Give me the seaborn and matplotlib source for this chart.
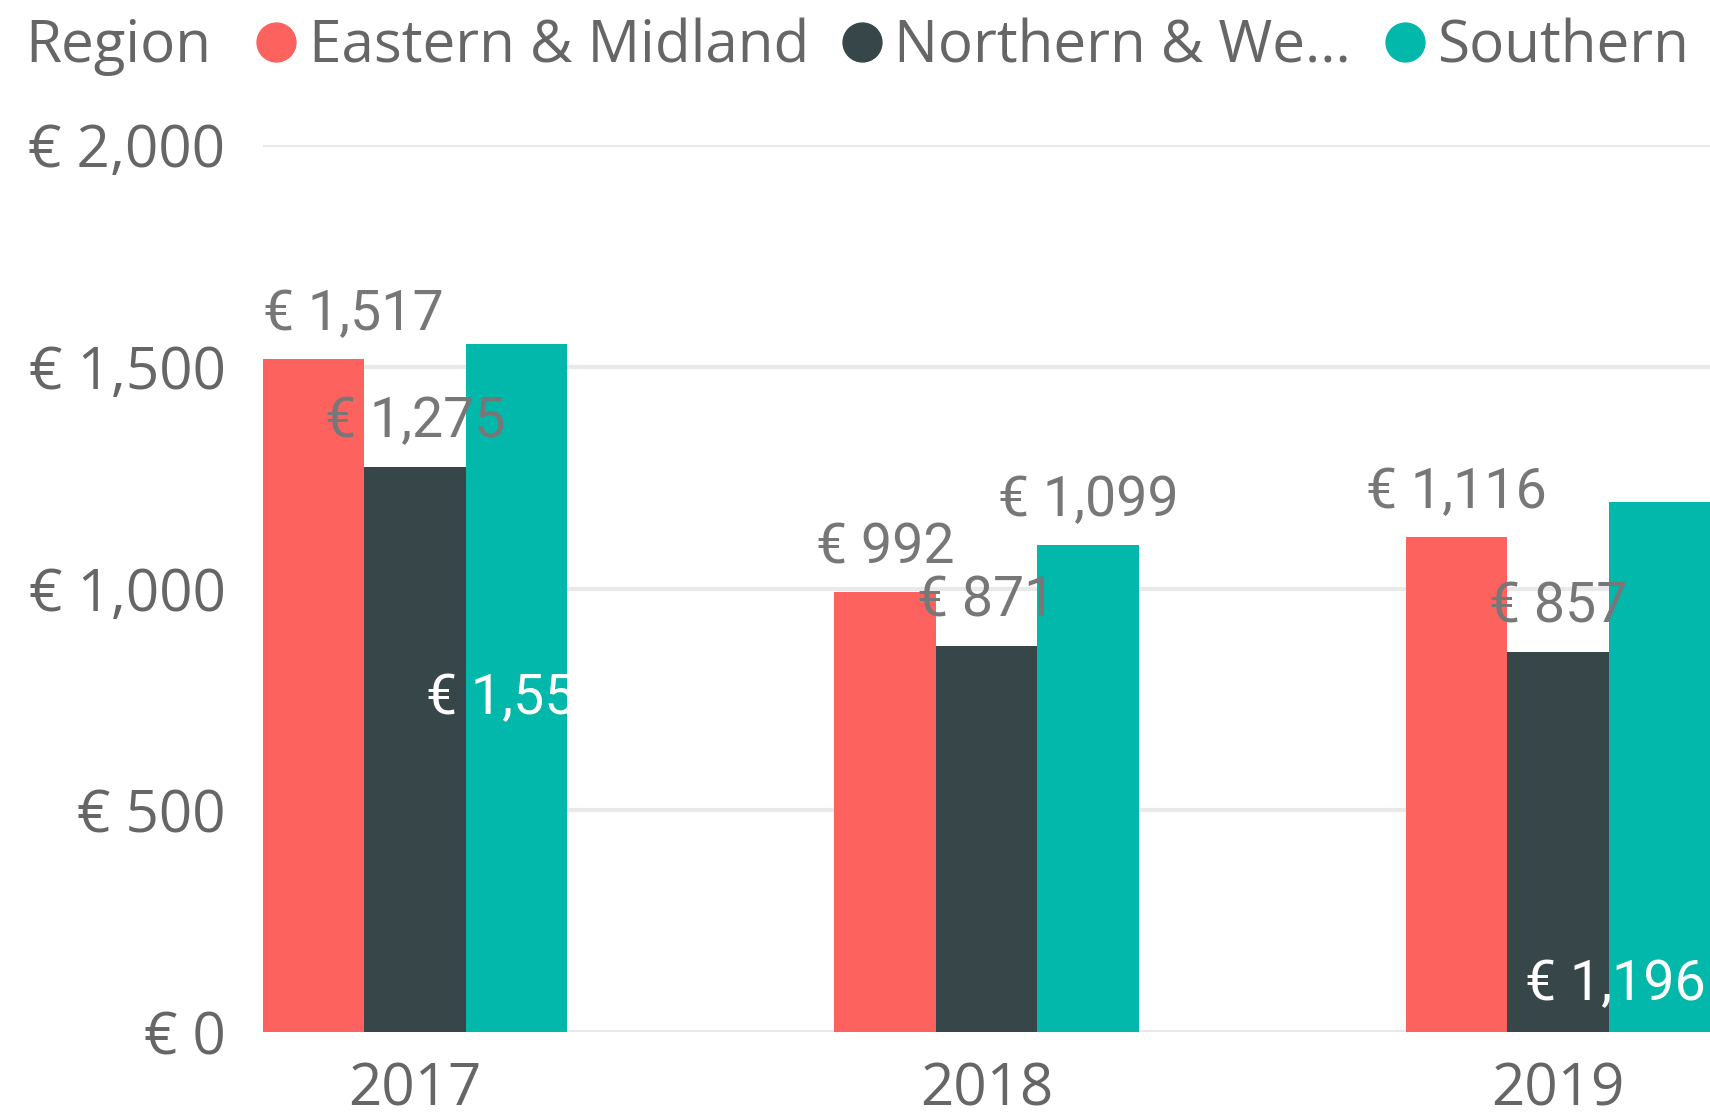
import numpy as np
import pandas as pd
import matplotlib
matplotlib.use("Agg")
import matplotlib.pyplot as plt
import seaborn as sns
from matplotlib.lines import Line2D

years = ["2017", "2018", "2019"]
regions = ["Eastern & Midland", "Northern & Western", "Southern"]
eastern = [1517, 992, 1116]
northern = [1275, 871, 857]
southern = [1551, 1099, 1196]
colors = ["#FD625E", "#374649", "#01B8AA"]
y_ticks = [0, 500, 1000, 1500, 2000]

df = pd.DataFrame({
    "Year": years * 3,
    "Region": [r for r in regions for _ in years],
    "Value": eastern + northern + southern,
})

sns.set_style("white")
plt.rcParams["font.family"] = ["Open Sans", "DejaVu Sans"]

fig = plt.figure(figsize=(17.1, 11.19), dpi=100)
ax = fig.add_axes([263 / 1710, 1 - 1032 / 1119, 1 - 263 / 1710, (1032 - 145) / 1119])

group_w = 0.533
sns.barplot(data=df, x="Year", y="Value", hue="Region", hue_order=regions,
            order=years, palette=colors, width=group_w, saturation=1,
            linewidth=0, legend=False, ax=ax)

ax.set_xlim(-group_w / 2, len(years) - 1 + group_w / 2)
ax.set_ylim(0, 2000)
ax.set_yticks(y_ticks)
ax.set_yticklabels([f"€ {v:,}" for v in y_ticks])
ax.set_xlabel("")
ax.set_ylabel("")
ax.grid(axis="y", color="#E9E9E9", linewidth=3)
ax.set_axisbelow(True)
sns.despine(ax=ax, left=True, bottom=True)
ax.tick_params(axis="both", length=0, labelsize=42, colors="#666666")
ax.tick_params(axis="y", pad=27)
ax.tick_params(axis="x", pad=21)

# data labels: most sit above the bar, a couple are drawn inside in white
inside = {("Southern", "2017"): 752, ("Southern", "2019"): 106}
labels = []
for cont, reg in zip(ax.containers, regions):
    for bar, yr in zip(cont, years):
        val = bar.get_height()
        xc = bar.get_x() + bar.get_width() / 2
        txt = f"€ {int(round(val)):,}"
        if (reg, yr) in inside:
            t = ax.text(xc, inside[(reg, yr)], txt, ha="center", va="center",
                        fontsize=40, color="white", family=["Roboto", "DejaVu Sans"],
                        clip_on=False)
        else:
            t = ax.annotate(txt, (xc, val), xytext=(0, 32), textcoords="offset points",
                            ha="center", va="center", fontsize=40, color="#777777",
                            family=["Roboto", "DejaVu Sans"])
        labels.append(t)

# keep labels inside the plot area horizontally
fig.canvas.draw()
r = fig.canvas.get_renderer()
abox = ax.get_window_extent(r)
for t in labels:
    bb = t.get_window_extent(r)
    shift = 0
    if bb.x0 < abox.x0:
        shift = abox.x0 - bb.x0
    elif bb.x1 > abox.x1 - 4:
        shift = abox.x1 - 4 - bb.x1
    if shift:
        if isinstance(t, matplotlib.text.Annotation):
            ox, oy = t.xyann
            t.xyann = (ox + shift * 72 / fig.dpi, oy)
        else:
            x, y = t.get_position()
            px = ax.transData.transform((x, y))
            nx, ny = ax.transData.inverted().transform((px[0] + shift, px[1]))
            t.set_position((nx, ny))

# legend
fig.text(25 / 1710, 1 - 47 / 1119, "Region", fontsize=42, color="#666666",
         ha="left", va="center")
short = [r if len(r) <= 17 else r[:13] + "..." for r in regions]
handles = [Line2D([], [], marker="o", linestyle="", markersize=28,
                  markerfacecolor=c, markeredgecolor=c) for c in colors]
leg = fig.legend(handles, short, loc="center left", ncol=3, frameon=False,
                 bbox_to_anchor=(256 / 1710, 1 - 47 / 1119), fontsize=42,
                 handletextpad=0.2, columnspacing=0.57, handlelength=0.7,
                 borderaxespad=0, borderpad=0)
for t in leg.get_texts():
    t.set_color("#666666")

fig.savefig("out.png", dpi=100)
